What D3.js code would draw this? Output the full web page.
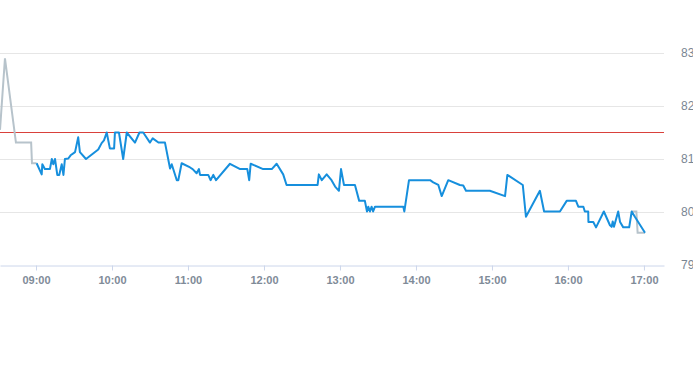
<!DOCTYPE html>
<html>
<head>
<meta charset="utf-8">
<script src="https://cdn.jsdelivr.net/npm/d3@7"></script>
<style>
  body { margin: 0; background: #fff; }
  text { font-family: "Liberation Sans", Arial, sans-serif; }
</style>
</head>
<body>
<script>
// intraday price, main session (blue)
const times = [
  "09:00:30","09:04:30","09:05:00","09:07:00","09:11:00","09:12:30","09:13:40","09:15:00",
  "09:16:50","09:18:20","09:20:20","09:21:40","09:22:50","09:25:30","09:27:20","09:30:50",
  "09:33:20","09:34:40","09:39:30","09:49:10","09:51:50","09:53:40","09:55:50","09:58:20",
  "10:01:40","10:02:20","10:05:30","10:08:50","10:11:40","10:18:10","10:21:40","10:24:40",
  "10:30:00","10:32:10","10:36:40","10:41:50","10:45:50","10:47:10","10:51:10","10:52:20",
  "10:55:00","11:01:40","11:03:40","11:06:50","11:08:40","11:09:30","11:16:00","11:17:50",
  "11:20:00","11:22:10","11:33:10","11:41:10","11:46:50","11:48:20","11:49:30","11:59:20",
  "12:06:10","12:10:00","12:15:10","12:17:50","12:42:20","12:43:20","12:45:40","12:49:30",
  "12:53:20","12:56:10","12:59:10","13:00:50","13:03:10","13:11:50","13:15:10","13:19:40",
  "13:21:20","13:22:20","13:23:40","13:25:00","13:26:10","13:27:40","13:50:00","13:50:50",
  "13:54:30","14:11:10","14:13:40","14:17:40","14:20:20","14:25:30","14:34:40","14:37:20",
  "14:39:30","14:58:20","15:10:20","15:12:10","15:24:20","15:26:50","15:37:50","15:41:10",
  "15:53:40","15:59:00","16:06:20","16:08:10","16:12:10","16:13:20","16:16:00","16:16:10",
  "16:20:00","16:22:10","16:28:20","16:33:10","16:34:30","16:35:20","16:36:20","16:39:40",
  "16:41:10","16:43:40","16:48:20","16:50:20","16:52:50","17:00:50"
];
const prices = [
  80.92,80.71,80.90,80.81,80.81,81.00,80.90,81.00,
  80.70,80.70,80.90,80.70,81.00,81.01,81.07,81.13,
  81.41,81.13,81.00,81.18,81.30,81.35,81.50,81.20,
  81.20,81.50,81.50,81.00,81.50,81.31,81.50,81.50,
  81.31,81.39,81.31,81.31,80.82,80.90,80.60,80.60,
  80.92,80.84,80.81,80.73,80.81,80.70,80.70,80.60,
  80.70,80.60,80.91,80.81,80.81,80.60,80.91,80.81,
  80.81,80.91,80.71,80.51,80.51,80.71,80.60,80.71,
  80.60,80.48,80.40,80.81,80.51,80.51,80.21,80.21,
  80.01,80.10,80.01,80.10,80.01,80.10,80.10,80.01,
  80.60,80.60,80.56,80.51,80.30,80.60,80.51,80.50,
  80.40,80.40,80.30,80.70,80.51,79.91,80.40,80.01,
  80.01,80.21,80.21,80.10,80.10,80.01,80.01,79.81,
  79.81,79.71,80.01,79.75,79.72,79.82,79.72,80.01,
  79.81,79.71,79.71,80.01,79.91,79.61
];

// pre-market and post-close (grey)
const preTimes = ["08:31:35","08:35:30","08:44:10","08:56:10","08:56:50","09:00:30"];
const prePrices = [81.55,82.90,81.31,81.31,80.92,80.92];
const postTimes = ["16:50:20","16:54:00","16:55:00","17:00:50"];
const postPrices = [80.01,80.01,79.61,79.61];

const refPrice = 81.5;
const yTicks = [79, 80, 81, 82, 83];
const xTickHours = [9, 10, 11, 12, 13, 14, 15, 16, 17];

const w = 693, h = 365;
const parse = d3.timeParse("%H:%M:%S");

const svg = d3.select("body").append("svg")
  .attr("width", w)
  .attr("height", h);

const xScale = d3.scaleTime()
  .domain([parse("08:31:35"), parse("17:15:50")])
  .range([0, 664]);

const yScale = d3.scaleLinear()
  .domain([79, 83])
  .range([265, 53]);

// grid
svg.append("g")
  .selectAll("line")
  .data(yTicks.slice(1))
  .enter()
  .append("line")
  .attr("x1", 0)
  .attr("x2", 664)
  .attr("y1", d => Math.round(yScale(d)) + 0.5)
  .attr("y2", d => Math.round(yScale(d)) + 0.5)
  .attr("stroke", "#e6e6e6");

// y labels on the right
svg.append("g")
  .selectAll("text")
  .data(yTicks)
  .enter()
  .append("text")
  .attr("x", 681)
  .attr("y", d => yScale(d) + 4)
  .style("font-size", "12px")
  .style("fill", "#7a8693")
  .text(d => d);

// x axis
const xAxis = d3.axisBottom(xScale)
  .tickValues(xTickHours.map(hr => parse((hr < 10 ? "0" : "") + hr + ":00:00")))
  .tickFormat(d3.timeFormat("%H:%M"))
  .tickSizeInner(5)
  .tickSizeOuter(0)
  .tickPadding(6);

const gx = svg.append("g")
  .attr("transform", "translate(0,265.5)")
  .call(xAxis);
gx.select(".domain").attr("stroke", "#ccd6eb");
gx.selectAll(".tick line").attr("stroke", "#ccd6eb");
gx.selectAll(".tick text")
  .style("font-size", "11px")
  .style("font-weight", "bold")
  .style("font-family", "\"Liberation Sans\", Arial, sans-serif")
  .attr("fill", "#7f8b98");

// reference line
svg.append("line")
  .attr("x1", 0)
  .attr("x2", 664)
  .attr("y1", yScale(refPrice))
  .attr("y2", yScale(refPrice))
  .attr("stroke", "#d9413b")
  .attr("stroke-width", 1);

const line = d3.line()
  .x(d => xScale(parse(d[0])))
  .y(d => yScale(d[1]));

svg.append("path")
  .datum(d3.zip(preTimes, prePrices))
  .attr("d", line)
  .attr("fill", "none")
  .attr("stroke", "#b7c3cb")
  .attr("stroke-width", 2);

svg.append("path")
  .datum(d3.zip(postTimes, postPrices))
  .attr("d", line)
  .attr("fill", "none")
  .attr("stroke", "#b7c3cb")
  .attr("stroke-width", 2);

svg.append("path")
  .datum(d3.zip(times, prices))
  .attr("d", line)
  .attr("fill", "none")
  .attr("stroke", "#168fdd")
  .attr("stroke-width", 2)
  .attr("stroke-linejoin", "round");
</script>
</body>
</html>
